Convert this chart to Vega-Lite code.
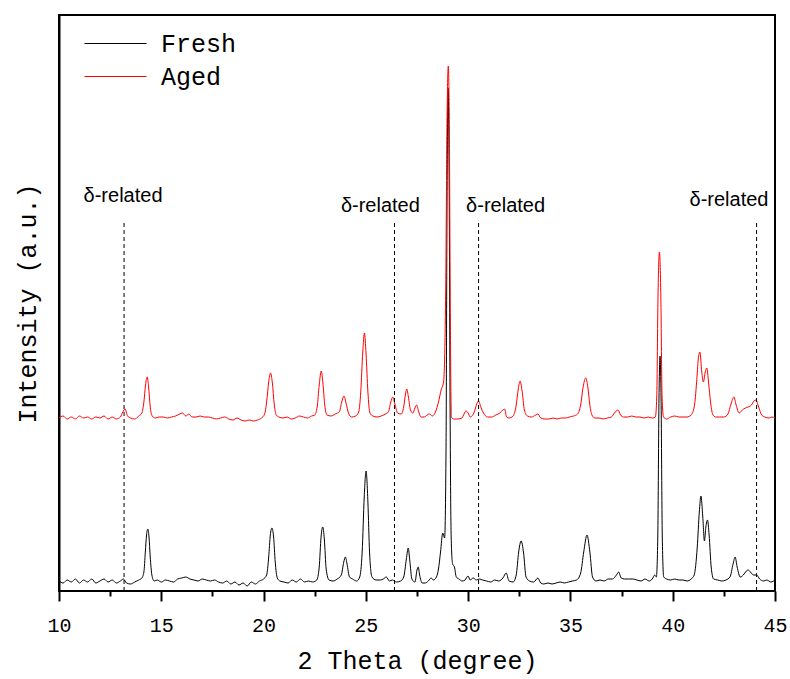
{
  "$schema": "https://vega.github.io/schema/vega-lite/v6.json",
  "width": 716,
  "height": 576,
  "autosize": "none",
  "padding": {"left": 59, "top": 15, "right": 15, "bottom": 88},
  "background": "white",
  "datasets": {
    "fresh": [
      {"t":10.0,"i":16},{"t":10.2,"i":14},{"t":10.4,"i":17},{"t":10.6,"i":15},{"t":10.8,"i":18},{"t":11.0,"i":14},{"t":11.2,"i":17},{"t":11.4,"i":15},{"t":11.6,"i":18},{"t":11.8,"i":14},{"t":12.0,"i":16},{"t":12.2,"i":18},{"t":12.4,"i":15},{"t":12.6,"i":17},{"t":12.8,"i":14},{"t":13.0,"i":16},{"t":13.15,"i":18},{"t":13.3,"i":14},{"t":13.5,"i":13},{"t":13.7,"i":15},{"t":13.9,"i":17},{"t":14.05,"i":19},{"t":14.15,"i":25},{"t":14.22,"i":45},{"t":14.28,"i":62},{"t":14.34,"i":68},{"t":14.4,"i":60},{"t":14.46,"i":40},{"t":14.54,"i":22},{"t":14.65,"i":16},{"t":14.8,"i":17},{"t":15.0,"i":15},{"t":15.2,"i":17},{"t":15.4,"i":16},{"t":15.6,"i":15},{"t":15.8,"i":18},{"t":16.0,"i":19},{"t":16.2,"i":20},{"t":16.4,"i":18},{"t":16.6,"i":17},{"t":16.8,"i":16},{"t":17.0,"i":18},{"t":17.2,"i":17},{"t":17.4,"i":16},{"t":17.6,"i":17},{"t":17.8,"i":15},{"t":18.0,"i":14},{"t":18.2,"i":16},{"t":18.4,"i":13},{"t":18.6,"i":15},{"t":18.8,"i":12},{"t":19.0,"i":14},{"t":19.2,"i":11},{"t":19.4,"i":15},{"t":19.6,"i":13},{"t":19.8,"i":16},{"t":20.0,"i":18},{"t":20.15,"i":22},{"t":20.25,"i":40},{"t":20.33,"i":62},{"t":20.41,"i":69},{"t":20.49,"i":60},{"t":20.57,"i":35},{"t":20.67,"i":19},{"t":20.8,"i":16},{"t":21.0,"i":15},{"t":21.2,"i":14},{"t":21.4,"i":17},{"t":21.6,"i":15},{"t":21.8,"i":18},{"t":22.0,"i":15},{"t":22.2,"i":16},{"t":22.4,"i":15},{"t":22.6,"i":17},{"t":22.72,"i":30},{"t":22.81,"i":60},{"t":22.89,"i":70},{"t":22.97,"i":58},{"t":23.06,"i":28},{"t":23.2,"i":17},{"t":23.4,"i":16},{"t":23.6,"i":18},{"t":23.8,"i":22},{"t":23.92,"i":35},{"t":24.0,"i":40},{"t":24.08,"i":33},{"t":24.2,"i":20},{"t":24.35,"i":18},{"t":24.55,"i":16},{"t":24.7,"i":20},{"t":24.82,"i":45},{"t":24.92,"i":100},{"t":25.01,"i":126},{"t":25.1,"i":95},{"t":25.18,"i":45},{"t":25.3,"i":20},{"t":25.5,"i":17},{"t":25.7,"i":17},{"t":25.85,"i":18},{"t":26.0,"i":20},{"t":26.15,"i":16},{"t":26.3,"i":17},{"t":26.5,"i":15},{"t":26.7,"i":16},{"t":26.85,"i":20},{"t":26.98,"i":38},{"t":27.07,"i":49},{"t":27.15,"i":36},{"t":27.25,"i":18},{"t":27.4,"i":15},{"t":27.5,"i":27},{"t":27.56,"i":30},{"t":27.63,"i":22},{"t":27.75,"i":14},{"t":27.9,"i":14},{"t":28.05,"i":16},{"t":28.19,"i":19},{"t":28.3,"i":17},{"t":28.45,"i":20},{"t":28.55,"i":28},{"t":28.65,"i":45},{"t":28.76,"i":64},{"t":28.85,"i":59},{"t":28.92,"i":150},{"t":28.97,"i":400},{"t":29.02,"i":509},{"t":29.07,"i":420},{"t":29.12,"i":180},{"t":29.17,"i":60},{"t":29.24,"i":33},{"t":29.33,"i":30},{"t":29.42,"i":20},{"t":29.55,"i":18},{"t":29.7,"i":16},{"t":29.85,"i":17},{"t":29.99,"i":21},{"t":30.1,"i":17},{"t":30.25,"i":19},{"t":30.4,"i":17},{"t":30.55,"i":18},{"t":30.7,"i":17},{"t":30.9,"i":16},{"t":31.1,"i":15},{"t":31.3,"i":17},{"t":31.5,"i":16},{"t":31.7,"i":19},{"t":31.86,"i":24},{"t":32.0,"i":16},{"t":32.2,"i":15},{"t":32.35,"i":22},{"t":32.47,"i":45},{"t":32.59,"i":56},{"t":32.71,"i":44},{"t":32.83,"i":20},{"t":33.0,"i":16},{"t":33.2,"i":15},{"t":33.41,"i":19},{"t":33.55,"i":14},{"t":33.7,"i":13},{"t":33.9,"i":14},{"t":34.1,"i":13},{"t":34.3,"i":14},{"t":34.5,"i":15},{"t":34.7,"i":14},{"t":34.9,"i":15},{"t":35.1,"i":16},{"t":35.3,"i":17},{"t":35.5,"i":24},{"t":35.65,"i":45},{"t":35.81,"i":62},{"t":35.95,"i":45},{"t":36.08,"i":20},{"t":36.25,"i":16},{"t":36.45,"i":17},{"t":36.65,"i":16},{"t":36.85,"i":18},{"t":37.05,"i":18},{"t":37.25,"i":22},{"t":37.36,"i":25},{"t":37.48,"i":19},{"t":37.65,"i":18},{"t":37.85,"i":18},{"t":38.05,"i":18},{"t":38.25,"i":17},{"t":38.45,"i":16},{"t":38.65,"i":18},{"t":38.85,"i":16},{"t":39.0,"i":18},{"t":39.12,"i":22},{"t":39.2,"i":20},{"t":39.27,"i":60},{"t":39.33,"i":200},{"t":39.38,"i":241},{"t":39.43,"i":200},{"t":39.49,"i":60},{"t":39.56,"i":20},{"t":39.7,"i":18},{"t":39.9,"i":17},{"t":40.1,"i":18},{"t":40.3,"i":17},{"t":40.5,"i":17},{"t":40.7,"i":16},{"t":40.9,"i":18},{"t":41.05,"i":22},{"t":41.2,"i":50},{"t":41.3,"i":85},{"t":41.38,"i":101},{"t":41.47,"i":80},{"t":41.55,"i":56},{"t":41.62,"i":70},{"t":41.7,"i":77},{"t":41.78,"i":62},{"t":41.88,"i":30},{"t":42.0,"i":18},{"t":42.2,"i":17},{"t":42.4,"i":16},{"t":42.6,"i":17},{"t":42.8,"i":20},{"t":42.95,"i":33},{"t":43.05,"i":40},{"t":43.15,"i":30},{"t":43.3,"i":20},{"t":43.45,"i":22},{"t":43.6,"i":26},{"t":43.69,"i":27},{"t":43.8,"i":25},{"t":43.95,"i":22},{"t":44.1,"i":22},{"t":44.25,"i":18},{"t":44.45,"i":16},{"t":44.6,"i":17},{"t":44.8,"i":15},{"t":45.0,"i":17}
    ],
    "aged": [
      {"t":10.0,"i":179},{"t":10.2,"i":181},{"t":10.4,"i":178},{"t":10.6,"i":180},{"t":10.8,"i":178},{"t":11.0,"i":181},{"t":11.2,"i":179},{"t":11.4,"i":180},{"t":11.6,"i":178},{"t":11.8,"i":180},{"t":12.0,"i":179},{"t":12.2,"i":181},{"t":12.4,"i":178},{"t":12.6,"i":180},{"t":12.8,"i":178},{"t":13.0,"i":180},{"t":13.12,"i":185},{"t":13.23,"i":188},{"t":13.35,"i":181},{"t":13.5,"i":179},{"t":13.7,"i":178},{"t":13.9,"i":181},{"t":14.05,"i":184},{"t":14.15,"i":195},{"t":14.23,"i":212},{"t":14.31,"i":220},{"t":14.38,"i":210},{"t":14.46,"i":190},{"t":14.56,"i":181},{"t":14.7,"i":179},{"t":14.9,"i":180},{"t":15.1,"i":180},{"t":15.3,"i":179},{"t":15.5,"i":180},{"t":15.7,"i":181},{"t":15.9,"i":183},{"t":16.04,"i":184},{"t":16.2,"i":181},{"t":16.35,"i":183},{"t":16.5,"i":180},{"t":16.7,"i":180},{"t":16.9,"i":181},{"t":17.1,"i":180},{"t":17.3,"i":180},{"t":17.5,"i":179},{"t":17.7,"i":178},{"t":17.9,"i":179},{"t":18.1,"i":180},{"t":18.3,"i":178},{"t":18.5,"i":177},{"t":18.7,"i":179},{"t":18.9,"i":177},{"t":19.1,"i":176},{"t":19.3,"i":177},{"t":19.5,"i":176},{"t":19.7,"i":177},{"t":19.9,"i":179},{"t":20.05,"i":183},{"t":20.15,"i":195},{"t":20.25,"i":215},{"t":20.34,"i":224},{"t":20.43,"i":214},{"t":20.52,"i":193},{"t":20.62,"i":182},{"t":20.75,"i":180},{"t":20.95,"i":179},{"t":21.15,"i":180},{"t":21.35,"i":178},{"t":21.55,"i":179},{"t":21.75,"i":181},{"t":21.95,"i":180},{"t":22.15,"i":179},{"t":22.35,"i":181},{"t":22.5,"i":182},{"t":22.62,"i":190},{"t":22.72,"i":212},{"t":22.82,"i":226},{"t":22.9,"i":214},{"t":22.99,"i":192},{"t":23.1,"i":182},{"t":23.3,"i":181},{"t":23.5,"i":183},{"t":23.7,"i":185},{"t":23.82,"i":195},{"t":23.93,"i":201},{"t":24.03,"i":194},{"t":24.15,"i":184},{"t":24.3,"i":180},{"t":24.5,"i":181},{"t":24.65,"i":185},{"t":24.75,"i":205},{"t":24.85,"i":245},{"t":24.93,"i":264},{"t":25.01,"i":243},{"t":25.1,"i":205},{"t":25.2,"i":184},{"t":25.35,"i":181},{"t":25.55,"i":180},{"t":25.75,"i":181},{"t":25.95,"i":183},{"t":26.1,"i":185},{"t":26.22,"i":195},{"t":26.32,"i":200},{"t":26.42,"i":193},{"t":26.55,"i":184},{"t":26.72,"i":183},{"t":26.85,"i":190},{"t":26.93,"i":202},{"t":27.0,"i":208},{"t":27.08,"i":200},{"t":27.18,"i":187},{"t":27.3,"i":184},{"t":27.4,"i":189},{"t":27.49,"i":192},{"t":27.57,"i":186},{"t":27.7,"i":180},{"t":27.85,"i":180},{"t":28.0,"i":182},{"t":28.11,"i":183},{"t":28.25,"i":181},{"t":28.4,"i":185},{"t":28.55,"i":195},{"t":28.68,"i":207},{"t":28.8,"i":215},{"t":28.9,"i":300},{"t":28.97,"i":480},{"t":29.03,"i":531},{"t":29.08,"i":470},{"t":29.13,"i":280},{"t":29.18,"i":180},{"t":29.3,"i":178},{"t":29.5,"i":178},{"t":29.7,"i":179},{"t":29.8,"i":183},{"t":29.9,"i":186},{"t":30.0,"i":184},{"t":30.1,"i":180},{"t":30.3,"i":185},{"t":30.42,"i":193},{"t":30.51,"i":196},{"t":30.62,"i":190},{"t":30.75,"i":184},{"t":30.95,"i":180},{"t":31.15,"i":180},{"t":31.35,"i":182},{"t":31.55,"i":184},{"t":31.7,"i":187},{"t":31.78,"i":188},{"t":31.88,"i":180},{"t":32.0,"i":179},{"t":32.2,"i":181},{"t":32.35,"i":192},{"t":32.45,"i":208},{"t":32.54,"i":216},{"t":32.63,"i":207},{"t":32.75,"i":187},{"t":32.9,"i":181},{"t":33.1,"i":180},{"t":33.3,"i":182},{"t":33.41,"i":183},{"t":33.55,"i":179},{"t":33.75,"i":178},{"t":33.95,"i":178},{"t":34.15,"i":179},{"t":34.35,"i":178},{"t":34.55,"i":179},{"t":34.75,"i":179},{"t":34.95,"i":180},{"t":35.15,"i":181},{"t":35.35,"i":183},{"t":35.5,"i":192},{"t":35.62,"i":210},{"t":35.75,"i":219},{"t":35.85,"i":210},{"t":35.95,"i":192},{"t":36.05,"i":182},{"t":36.2,"i":179},{"t":36.4,"i":179},{"t":36.6,"i":178},{"t":36.8,"i":179},{"t":37.0,"i":180},{"t":37.15,"i":184},{"t":37.33,"i":187},{"t":37.45,"i":182},{"t":37.6,"i":180},{"t":37.8,"i":180},{"t":38.0,"i":181},{"t":38.2,"i":180},{"t":38.4,"i":180},{"t":38.6,"i":179},{"t":38.8,"i":180},{"t":39.0,"i":179},{"t":39.15,"i":180},{"t":39.22,"i":200},{"t":39.28,"i":300},{"t":39.35,"i":345},{"t":39.42,"i":300},{"t":39.48,"i":200},{"t":39.55,"i":180},{"t":39.7,"i":178},{"t":39.9,"i":180},{"t":40.1,"i":181},{"t":40.3,"i":180},{"t":40.5,"i":180},{"t":40.7,"i":180},{"t":40.9,"i":182},{"t":41.05,"i":190},{"t":41.17,"i":215},{"t":41.25,"i":238},{"t":41.33,"i":245},{"t":41.42,"i":225},{"t":41.5,"i":215},{"t":41.59,"i":225},{"t":41.67,"i":229},{"t":41.75,"i":215},{"t":41.85,"i":195},{"t":41.95,"i":183},{"t":42.1,"i":180},{"t":42.3,"i":180},{"t":42.5,"i":180},{"t":42.7,"i":183},{"t":42.85,"i":193},{"t":42.99,"i":200},{"t":43.1,"i":192},{"t":43.25,"i":184},{"t":43.4,"i":187},{"t":43.55,"i":189},{"t":43.69,"i":190},{"t":43.85,"i":192},{"t":43.97,"i":196},{"t":44.07,"i":197},{"t":44.2,"i":190},{"t":44.35,"i":182},{"t":44.5,"i":180},{"t":44.7,"i":179},{"t":44.85,"i":180},{"t":45.0,"i":179}
    ],
    "marks": [
      {"t":13.18,"lo":6,"hi":375},
      {"t":26.4,"lo":6,"hi":375},
      {"t":30.51,"lo":6,"hi":375},
      {"t":44.1,"lo":6,"hi":375}
    ],
    "labels": [
      {"t":13.13,"i":401,"label":"δ-related"},
      {"t":25.71,"i":391,"label":"δ-related"},
      {"t":31.83,"i":391,"label":"δ-related"},
      {"t":42.75,"i":397,"label":"δ-related"}
    ]
  },
  "layer": [
    {
      "data": {"name": "fresh"},
      "transform": [{"calculate": "'Fresh'", "as": "s"}],
      "mark": {"type": "line", "interpolate": "monotone", "strokeWidth": 1, "clip": true},
      "encoding": {
        "x": {"field": "t", "type": "quantitative", "scale": {"domain": [10, 45], "nice": false, "zero": false},
          "axis": {"title": "2 Theta (degree)", "values": [10, 12.5, 15, 17.5, 20, 22.5, 25, 27.5, 30, 32.5, 35, 37.5, 40, 42.5, 45],
            "labelExpr": "datum.value % 5 === 0 ? format(datum.value, 'd') : ''",
            "domain": false, "zindex": 2,
            "ticks": true, "tickColor": "#000000", "tickWidth": 2, "tickOpacity": 1,
            "tickSize": {"condition": {"test": "datum.value % 5 !== 0", "value": 5}, "value": 10},
            "labelFontSize": 20, "labelPadding": 14, "labelFlush": false, "labelOverlap": false,
            "titleFontSize": 25, "titlePadding": 13}},
        "y": {"field": "i", "type": "quantitative", "scale": {"domain": [6, 582], "nice": false, "zero": false}, "axis": {"title": "Intensity (a.u.)"}},
        "color": {"field": "s", "type": "nominal", "scale": {"domain": ["Fresh", "Aged"], "range": ["#000000", "#ff0000"]},
          "legend": {"title": null, "orient": "none", "legendX": 25, "legendY": 12, "symbolType": "stroke", "symbolSize": 3844, "symbolStrokeWidth": 1, "clipHeight": 33, "labelFont": "Liberation Mono", "labelFontSize": 25, "labelOffset": 14, "rowPadding": 0, "padding": 0, "labelColor": "#000"}}
      }
    },
    {
      "data": {"name": "aged"},
      "transform": [{"calculate": "'Aged'", "as": "s"}],
      "mark": {"type": "line", "interpolate": "monotone", "strokeWidth": 1, "clip": true},
      "encoding": {
        "x": {"field": "t", "type": "quantitative"},
        "y": {"field": "i", "type": "quantitative"},
        "color": {"field": "s", "type": "nominal"}
      }
    },
    {
      "data": {"name": "marks"},
      "mark": {"type": "rule", "strokeDash": [4, 3], "strokeWidth": 1, "color": "#000", "clip": true},
      "encoding": {
        "x": {"field": "t", "type": "quantitative"},
        "y": {"field": "lo", "type": "quantitative"},
        "y2": {"field": "hi"}
      }
    },
    {
      "data": {"name": "labels"},
      "mark": {"type": "text", "font": "Liberation Sans", "fontSize": 20, "align": "center", "baseline": "middle", "color": "#000"},
      "encoding": {
        "x": {"field": "t", "type": "quantitative"},
        "y": {"field": "i", "type": "quantitative"},
        "text": {"field": "label"}
      }
    }
  ],
  "config": {
    "view": {"stroke": "#000", "strokeWidth": 2},
    "axis": {"grid": false, "domainColor": "#000", "domainWidth": 2, "labelColor": "#000", "titleColor": "#000", "labelFont": "Liberation Mono", "titleFont": "Liberation Mono", "titleFontWeight": "normal"},
    "axisY": {"labels": false, "ticks": false, "titleFontSize": 25, "titlePadding": 19}
  }
}
